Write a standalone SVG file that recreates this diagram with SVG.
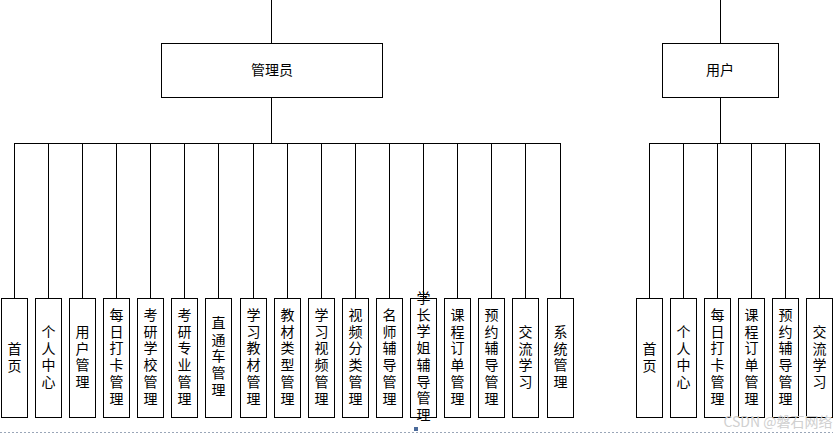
<svg xmlns="http://www.w3.org/2000/svg" width="833" height="437" viewBox="0 0 833 437">
<style>
.b{fill:#fff;stroke:#000;stroke-width:1}
.l{stroke:#000;stroke-width:1;fill:none}
text{font-family:"Noto Sans CJK SC","Liberation Sans",sans-serif;font-size:14px;fill:#000;text-anchor:middle}
</style>
<rect width="833" height="437" fill="#fff"/>
<g id="connectors">
<path class="l" d="M271.5 0V43M271.5 97V143.5M14 143.5H560.5M720.5 0V43M720.5 97V143.5M649 143.5H819.5"/>
<path class="l" d="M14.5 143V298M48.5 143V298M82.5 143V298M116.5 143V298M150.5 143V298M184.5 143V298M218.5 143V298M253.5 143V298M287.5 143V298M321.5 143V298M355.5 143V298M389.5 143V298M423.5 143V298M457.5 143V298M491.5 143V298M525.5 143V298M560.5 143V298"/>
<path class="l" d="M649.5 143V298M683.5 143V298M717.5 143V298M751.5 143V298M785.5 143V298M819.5 143V298"/>
</g>
<g id="admin"><rect class="b" x="161.5" y="43.5" width="221" height="54"/><text x="272" y="75">管理员</text></g>
<g id="user"><rect class="b" x="662.5" y="43.5" width="116" height="54"/><text x="720" y="75">用户</text></g>
<g id="a1"><rect class="b" x="1.5" y="298.5" width="26" height="119"/><text x="14.5"><tspan x="14.5" y="354">首</tspan><tspan x="14.5" dy="16.7">页</tspan></text></g>
<g id="a2"><rect class="b" x="35.5" y="298.5" width="26" height="119"/><text><tspan x="48.5" y="337">个</tspan><tspan x="48.5" dy="16.7">人</tspan><tspan x="48.5" dy="16.7">中</tspan><tspan x="48.5" dy="16.7">心</tspan></text></g>
<g id="a3"><rect class="b" x="69.5" y="298.5" width="26" height="119"/><text><tspan x="82.5" y="337">用</tspan><tspan x="82.5" dy="16.7">户</tspan><tspan x="82.5" dy="16.7">管</tspan><tspan x="82.5" dy="16.7">理</tspan></text></g>
<g id="a4"><rect class="b" x="103.5" y="298.5" width="26" height="119"/><text><tspan x="116.5" y="320">每</tspan><tspan x="116.5" dy="16.7">日</tspan><tspan x="116.5" dy="16.7">打</tspan><tspan x="116.5" dy="16.7">卡</tspan><tspan x="116.5" dy="16.7">管</tspan><tspan x="116.5" dy="16.7">理</tspan></text></g>
<g id="a5"><rect class="b" x="137.5" y="298.5" width="26" height="119"/><text><tspan x="150.5" y="320">考</tspan><tspan x="150.5" dy="16.7">研</tspan><tspan x="150.5" dy="16.7">学</tspan><tspan x="150.5" dy="16.7">校</tspan><tspan x="150.5" dy="16.7">管</tspan><tspan x="150.5" dy="16.7">理</tspan></text></g>
<g id="a6"><rect class="b" x="171.5" y="298.5" width="26" height="119"/><text><tspan x="184.5" y="320">考</tspan><tspan x="184.5" dy="16.7">研</tspan><tspan x="184.5" dy="16.7">专</tspan><tspan x="184.5" dy="16.7">业</tspan><tspan x="184.5" dy="16.7">管</tspan><tspan x="184.5" dy="16.7">理</tspan></text></g>
<g id="a7"><rect class="b" x="205.5" y="298.5" width="26" height="119"/><text><tspan x="218.5" y="328">直</tspan><tspan x="218.5" dy="16.7">通</tspan><tspan x="218.5" dy="16.7">车</tspan><tspan x="218.5" dy="16.7">管</tspan><tspan x="218.5" dy="16.7">理</tspan></text></g>
<g id="a8"><rect class="b" x="240.5" y="298.5" width="26" height="119"/><text><tspan x="253.5" y="320">学</tspan><tspan x="253.5" dy="16.7">习</tspan><tspan x="253.5" dy="16.7">教</tspan><tspan x="253.5" dy="16.7">材</tspan><tspan x="253.5" dy="16.7">管</tspan><tspan x="253.5" dy="16.7">理</tspan></text></g>
<g id="a9"><rect class="b" x="274.5" y="298.5" width="26" height="119"/><text><tspan x="287.5" y="320">教</tspan><tspan x="287.5" dy="16.7">材</tspan><tspan x="287.5" dy="16.7">类</tspan><tspan x="287.5" dy="16.7">型</tspan><tspan x="287.5" dy="16.7">管</tspan><tspan x="287.5" dy="16.7">理</tspan></text></g>
<g id="a10"><rect class="b" x="308.5" y="298.5" width="26" height="119"/><text><tspan x="321.5" y="320">学</tspan><tspan x="321.5" dy="16.7">习</tspan><tspan x="321.5" dy="16.7">视</tspan><tspan x="321.5" dy="16.7">频</tspan><tspan x="321.5" dy="16.7">管</tspan><tspan x="321.5" dy="16.7">理</tspan></text></g>
<g id="a11"><rect class="b" x="342.5" y="298.5" width="26" height="119"/><text><tspan x="355.5" y="320">视</tspan><tspan x="355.5" dy="16.7">频</tspan><tspan x="355.5" dy="16.7">分</tspan><tspan x="355.5" dy="16.7">类</tspan><tspan x="355.5" dy="16.7">管</tspan><tspan x="355.5" dy="16.7">理</tspan></text></g>
<g id="a12"><rect class="b" x="376.5" y="298.5" width="26" height="119"/><text><tspan x="389.5" y="320">名</tspan><tspan x="389.5" dy="16.7">师</tspan><tspan x="389.5" dy="16.7">辅</tspan><tspan x="389.5" dy="16.7">导</tspan><tspan x="389.5" dy="16.7">管</tspan><tspan x="389.5" dy="16.7">理</tspan></text></g>
<g id="a13"><rect class="b" x="410.5" y="298.5" width="26" height="119"/><text><tspan x="423.5" y="303">学</tspan><tspan x="423.5" dy="16.7">长</tspan><tspan x="423.5" dy="16.7">学</tspan><tspan x="423.5" dy="16.7">姐</tspan><tspan x="423.5" dy="16.7">辅</tspan><tspan x="423.5" dy="16.7">导</tspan><tspan x="423.5" dy="16.7">管</tspan><tspan x="423.5" dy="16.7">理</tspan></text></g>
<g id="a14"><rect class="b" x="444.5" y="298.5" width="26" height="119"/><text><tspan x="457.5" y="320">课</tspan><tspan x="457.5" dy="16.7">程</tspan><tspan x="457.5" dy="16.7">订</tspan><tspan x="457.5" dy="16.7">单</tspan><tspan x="457.5" dy="16.7">管</tspan><tspan x="457.5" dy="16.7">理</tspan></text></g>
<g id="a15"><rect class="b" x="478.5" y="298.5" width="26" height="119"/><text><tspan x="491.5" y="320">预</tspan><tspan x="491.5" dy="16.7">约</tspan><tspan x="491.5" dy="16.7">辅</tspan><tspan x="491.5" dy="16.7">导</tspan><tspan x="491.5" dy="16.7">管</tspan><tspan x="491.5" dy="16.7">理</tspan></text></g>
<g id="a16"><rect class="b" x="512.5" y="298.5" width="26" height="119"/><text><tspan x="525.5" y="337">交</tspan><tspan x="525.5" dy="16.7">流</tspan><tspan x="525.5" dy="16.7">学</tspan><tspan x="525.5" dy="16.7">习</tspan></text></g>
<g id="a17"><rect class="b" x="547.5" y="298.5" width="26" height="119"/><text><tspan x="560.5" y="337">系</tspan><tspan x="560.5" dy="16.7">统</tspan><tspan x="560.5" dy="16.7">管</tspan><tspan x="560.5" dy="16.7">理</tspan></text></g>
<g id="u1"><rect class="b" x="636.5" y="298.5" width="26" height="119"/><text><tspan x="649.5" y="354">首</tspan><tspan x="649.5" dy="16.7">页</tspan></text></g>
<g id="u2"><rect class="b" x="670.5" y="298.5" width="26" height="119"/><text><tspan x="683.5" y="337">个</tspan><tspan x="683.5" dy="16.7">人</tspan><tspan x="683.5" dy="16.7">中</tspan><tspan x="683.5" dy="16.7">心</tspan></text></g>
<g id="u3"><rect class="b" x="704.5" y="298.5" width="26" height="119"/><text><tspan x="717.5" y="320">每</tspan><tspan x="717.5" dy="16.7">日</tspan><tspan x="717.5" dy="16.7">打</tspan><tspan x="717.5" dy="16.7">卡</tspan><tspan x="717.5" dy="16.7">管</tspan><tspan x="717.5" dy="16.7">理</tspan></text></g>
<g id="u4"><rect class="b" x="738.5" y="298.5" width="26" height="119"/><text><tspan x="751.5" y="320">课</tspan><tspan x="751.5" dy="16.7">程</tspan><tspan x="751.5" dy="16.7">订</tspan><tspan x="751.5" dy="16.7">单</tspan><tspan x="751.5" dy="16.7">管</tspan><tspan x="751.5" dy="16.7">理</tspan></text></g>
<g id="u5"><rect class="b" x="772.5" y="298.5" width="26" height="119"/><text><tspan x="785.5" y="320">预</tspan><tspan x="785.5" dy="16.7">约</tspan><tspan x="785.5" dy="16.7">辅</tspan><tspan x="785.5" dy="16.7">导</tspan><tspan x="785.5" dy="16.7">管</tspan><tspan x="785.5" dy="16.7">理</tspan></text></g>
<g id="u6"><rect class="b" x="806.5" y="298.5" width="26" height="119"/><text><tspan x="819.5" y="337">交</tspan><tspan x="819.5" dy="16.7">流</tspan><tspan x="819.5" dy="16.7">学</tspan><tspan x="819.5" dy="16.7">习</tspan></text></g>
<line x1="0" y1="432.5" x2="833" y2="432.5" stroke="#9aa6b8" stroke-dasharray="2,2"/>
<rect x="414" y="427" width="4" height="4" fill="#4a6a9a"/>
<text x="778" y="427" style="font-size:14px;fill:#d0d0d0">CSDN @磐石网络</text>
</svg>
